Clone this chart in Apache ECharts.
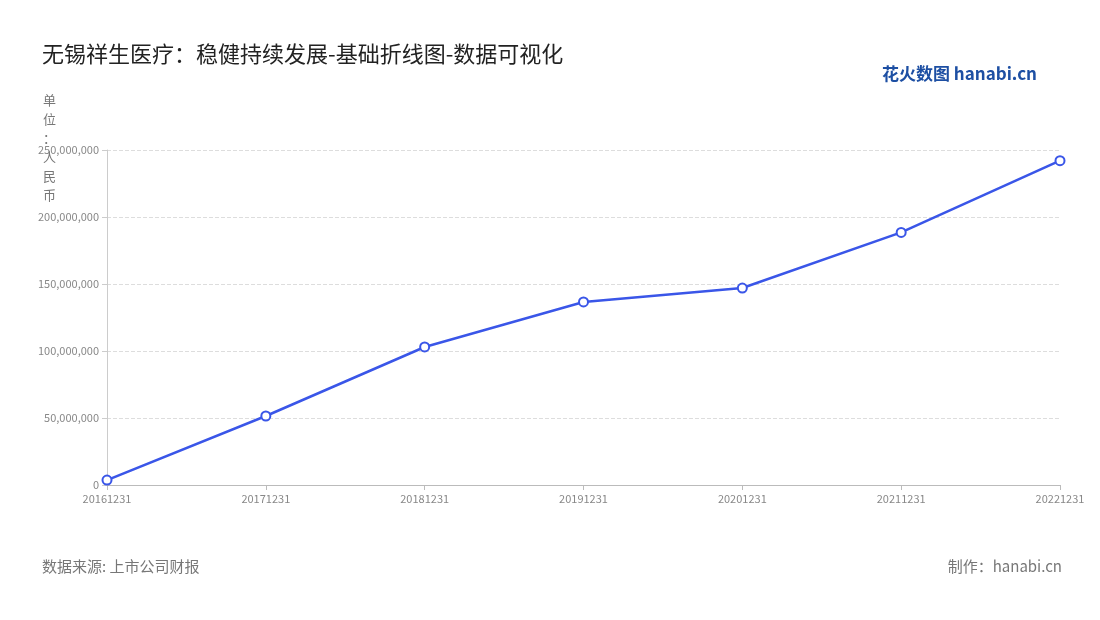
<!DOCTYPE html>
<html><head><meta charset="utf-8">
<script src="https://cdn.jsdelivr.net/npm/echarts@6/dist/echarts.min.js"></script>
<style>html,body{margin:0;padding:0;background:#fff}#c{width:1100px;height:620px}</style>
</head><body><div id="c"></div>
<script>
const categories = ['20161231','20171231','20181231','20191231','20201231','20211231','20221231'];
const values = [3700000, 51500000, 103000000, 136600000, 147000000, 188500000, 242000000];
const yTicks = {min: 0, max: 250000000, interval: 50000000};
const chart = echarts.init(document.getElementById('c'));
chart.setOption({
  backgroundColor: '#fff',
  textStyle: {fontFamily: 'Noto Sans CJK SC'},
  title: [
    {text: '无锡祥生医疗：稳健持续发展-基础折线图-数据可视化', left: 37, top: 38,
     textStyle: {fontSize: 22, fontWeight: 'normal', color: '#222'}},
    {text: '数据来源: 上市公司财报', left: 37, top: 554, textStyle: {fontSize: 15, fontWeight: 'normal', color: '#777'}},
    {text: '制作：hanabi.cn', right: 33, top: 554, textStyle: {fontSize: 15, fontWeight: 'normal', color: '#777'}},
    {text: '花火数图 hanabi.cn', right: 58, top: 60, textStyle: {fontSize: 17, fontWeight: 'bold', color: '#1d4fa3'}},
    {text: '单\n位\n：\n人\n民\n币', left: 38, top: 86, textStyle: {fontSize: 13, fontWeight: 'normal', color: '#777', lineHeight: 19}}
  ],
  grid: {left: 107, right: 40, top: 150, bottom: 135},
  xAxis: {type: 'category', data: categories, boundaryGap: false,
    axisLine: {lineStyle: {color: '#bbb'}}, axisTick: {show: true, lineStyle: {color: '#bbb'}},
    axisLabel: {color: '#888', fontSize: 11}},
  yAxis: {type: 'value', min: yTicks.min, max: yTicks.max, interval: yTicks.interval,
    axisLine: {show: true, lineStyle: {color: '#ccc'}}, axisTick: {show: true, lineStyle: {color: '#ccc'}},
    axisLabel: {color: '#888', fontSize: 11, formatter: v => v.toLocaleString('en-US')},
    splitLine: {lineStyle: {type: 'dashed', color: '#ddd'}}},
  series: [{type: 'line', data: values, symbol: 'circle', symbolSize: 9,
    lineStyle: {color: '#3a56e8', width: 2.5},
    itemStyle: {color: '#fff', borderColor: '#3a56e8', borderWidth: 2}}]
});
</script></body></html>
